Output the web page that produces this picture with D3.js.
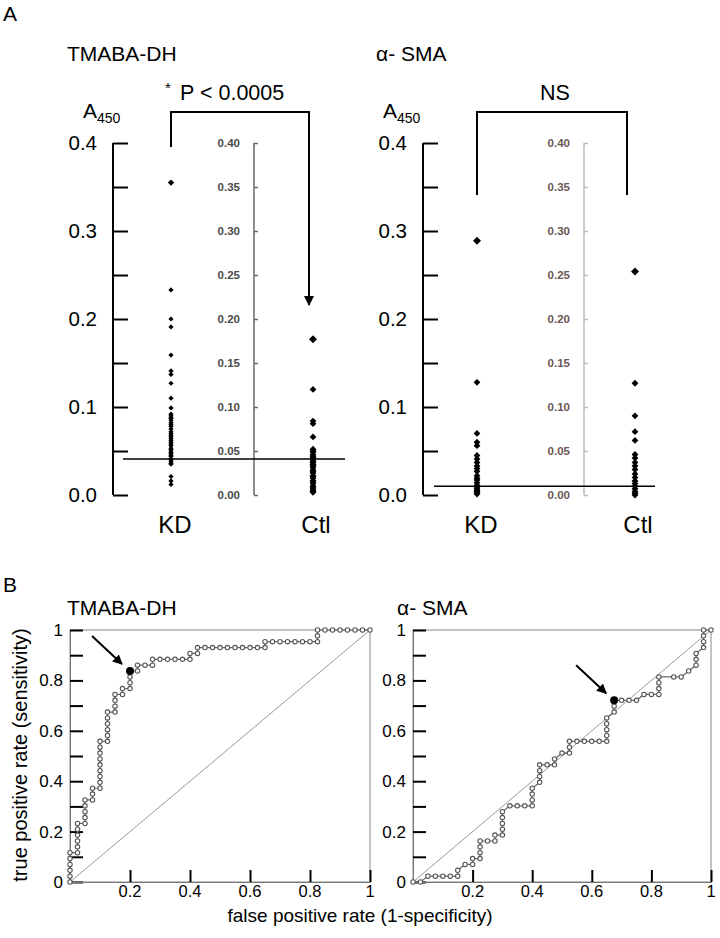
<!DOCTYPE html>
<html><head><meta charset="utf-8">
<script src="https://cdn.jsdelivr.net/npm/d3@7"></script>
<style>body{margin:0;background:#fff}svg{display:block}text{font-family:"Liberation Sans",Arial,sans-serif}</style>
</head><body>
<svg id="c" width="720" height="938"></svg>
<script>
// ---------- DATA ----------
const groups = ["KD", "Ctl"];
const tmabaKD = [0.355,0.233,0.200,0.191,0.159,0.141,0.137,0.127,0.110,0.099,0.092,0.090,0.088,0.087,0.085,0.082,0.080,0.078,0.075,0.072,0.070,0.068,0.066,0.064,0.062,0.060,0.058,0.056,0.053,0.052,0.050,0.048,0.047,0.045,0.044,0.041,0.040,0.038,0.036,0.035,0.021,0.016,0.012];
const tmabaCtl = [0.177,0.120,0.084,0.081,0.066,0.052,0.050,0.049,0.046,0.044,0.043,0.041,0.040,0.038,0.037,0.035,0.034,0.033,0.031,0.028,0.027,0.025,0.022,0.021,0.019,0.016,0.015,0.013,0.010,0.009,0.007,0.005,0.004,0.003];
const smaKD = [0.289,0.128,0.070,0.060,0.056,0.045,0.041,0.037,0.033,0.030,0.027,0.022,0.019,0.017,0.014,0.011,0.009,0.007,0.005,0.004,0.003,0.001];
const smaCtl = [0.254,0.127,0.090,0.072,0.062,0.046,0.042,0.037,0.033,0.029,0.024,0.020,0.016,0.013,0.010,0.007,0.004,0.002,0.000];
const tmabaCutoff = 0.041;
const smaCutoff = 0.010;
const yTicksMain = [0.0,0.1,0.2,0.3,0.4];
const yTicksMinor = [0,0.05,0.10,0.15,0.20,0.25,0.30,0.35,0.40];
const pLabel = "P < 0.0005";
const nsLabel = "NS";

// ROC points as [false-positive count, true-positive count]
const nNeg = 40, nPos = 43;
const tmabaRoc = [[0,0],[0,1],[0,2],[0,3],[0,4],[0,5],[1,5],[1,6],[1,7],[1,8],[1,9],[1,10],[2,10],[2,11],[2,12],[2,13],[2,14],[3,14],[3,15],[3,16],[4,16],[4,17],[4,18],[4,19],[4,20],[4,21],[4,22],[4,23],[4,24],[5,24],[5,25],[5,26],[5,27],[5,28],[5,29],[6,29],[6,30],[6,31],[6,32],[7,32],[7,33],[8,33],[8,34],[8,35],[8,36],[9,36],[9,37],[10,37],[11,37],[11,38],[12,38],[13,38],[14,38],[15,38],[16,38],[16,39],[17,39],[17,40],[18,40],[19,40],[20,40],[21,40],[22,40],[23,40],[24,40],[25,40],[26,40],[26,41],[27,41],[28,41],[29,41],[30,41],[31,41],[32,41],[33,41],[33,42],[33,43],[34,43],[35,43],[36,43],[37,43],[38,43],[39,43],[40,43]];
const tmabaBest = [8,36];
const smaRoc = [[0,0],[1,0],[2,1],[3,1],[4,1],[5,1],[6,1],[6,2],[7,3],[8,3],[8,4],[9,4],[9,5],[9,6],[9,7],[10,7],[11,7],[11,8],[12,8],[12,9],[12,10],[12,11],[12,12],[13,13],[14,13],[15,13],[16,13],[16,14],[16,15],[16,16],[17,17],[17,18],[17,19],[17,20],[18,20],[19,20],[19,21],[20,22],[21,22],[21,23],[21,24],[22,24],[23,24],[24,24],[25,24],[26,24],[26,25],[26,26],[26,27],[26,28],[27,29],[27,30],[27,31],[28,31],[29,31],[30,31],[31,32],[32,32],[33,32],[33,33],[33,34],[33,35],[35,35],[36,35],[37,36],[38,37],[38,38],[38,39],[39,40],[39,41],[39,42],[39,43],[40,43]];
const smaBest = [27,31];
const rocTicksY = [0,0.1,0.2,0.3,0.4,0.5,0.6,0.7,0.8,0.9,1];
const rocLabelsY = [0,0.2,0.4,0.6,0.8,1];
const rocTicksX = [0.2,0.4,0.6,0.8,1];
const rocLabelsX = [0.2,0.4,0.6,0.8,1];

// ---------- DRAW ----------
const svg = d3.select("#c");
const fmtR = d => d === 0 ? "0" : d === 1 ? "1" : d3.format(".1f")(d);

function txt(x, y, s, size, anchor, opts = {}) {
  const t = svg.append("text").attr("x", x).attr("y", y).text(s)
    .attr("font-size", size).attr("text-anchor", anchor || "start")
    .attr("fill", opts.fill || "#000");
  if (opts.weight) t.attr("font-weight", opts.weight);
  return t;
}
function diamond(r) { return `M0,${-r}L${r},0L0,${r}L${-r},0Z`; }

svg.append("defs").append("marker").attr("id", "ah").attr("viewBox", "0 0 10 10")
  .attr("refX", 9).attr("refY", 5).attr("markerWidth", 5).attr("markerHeight", 5)
  .attr("orient", "auto").append("path").attr("d", "M0,0L10,5L0,10Z").attr("fill", "#000");

txt(3, 21, "A", 21);
txt(3, 592, "B", 21);

const yTop = d3.scaleLinear().domain([0, 0.4]).range([495, 143]);

function dotPanel(cfg) {
  const x = d3.scalePoint().domain(groups).range([cfg.kdX, cfg.ctlX]);
  txt(cfg.titleX, 61, cfg.title, 21);
  // A450
  txt(cfg.aX, 118, "A", 21);
  txt(cfg.aX + 14, 123, "450", 14);
  // main axis
  const ax = svg.append("g").attr("transform", `translate(${cfg.axisX},0)`)
    .call(d3.axisRight(yTop).tickValues(yTicksMinor).tickSize(15).tickFormat(""));
  ax.select(".domain").attr("stroke", "#000").attr("stroke-width", 2).attr("d", `M0,${yTop(0)}V${yTop(0.4)}`);
  ax.selectAll(".tick line").attr("stroke", "#000").attr("stroke-width", 2);
  yTicksMain.forEach(v => txt(cfg.axisX - 16, yTop(v) + 7, d3.format(".1f")(v), 20.5, "end"));
  // secondary axis
  const ax2 = svg.append("g").attr("transform", `translate(${cfg.ax2X},0)`)
    .call(d3.axisRight(yTop).tickValues(yTicksMinor).tickSize(4).tickFormat(""));
  ax2.select(".domain").attr("stroke", cfg.ax2Color).attr("stroke-width", 1.5).attr("d", `M0,${yTop(0)}V${yTop(0.4)}`);
  ax2.selectAll(".tick line").attr("stroke", cfg.ax2Color).attr("stroke-width", 1.5);
  yTicksMinor.forEach(v => txt(cfg.ax2X - 14, yTop(v) + 4, d3.format(".2f")(v), 11.5, "end", {fill: cfg.ax2Text, weight: "bold"}));
  // cutoff
  svg.append("line").attr("x1", cfg.cutX1).attr("x2", cfg.cutX2).attr("y1", yTop(cfg.cut)).attr("y2", yTop(cfg.cut))
    .attr("stroke", "#000").attr("stroke-width", 1.5);
  // dots
  [[cfg.kd, "KD", cfg.kdR], [cfg.ctl, "Ctl", cfg.ctlR]].forEach(([vals, g, r]) => {
    svg.append("g").selectAll("path").data(vals).join("path")
      .attr("transform", d => `translate(${x(g)},${yTop(d)})`)
      .attr("d", (d, i) => diamond(i === 0 ? r + 0.6 : r)).attr("fill", "#000");
  });
  groups.forEach(g => txt(x(g) + (g === "KD" ? 4 : 3), 533, g, 24, "middle"));
  // bracket
  const top = 112;
  svg.append("path").attr("d", `M${x("KD")},${cfg.legL}V${top}H${cfg.bracketR}V${cfg.legR}`)
    .attr("fill", "none").attr("stroke", "#000").attr("stroke-width", 2)
    .attr("marker-end", cfg.arrow ? "url(#ah)" : null);
}

dotPanel({title: "TMABA-DH", titleX: 67, aX: 83, axisX: 113, ax2X: 254, ax2Color: "#666", ax2Text: "#4a4a4a",
  kdX: 171, ctlX: 313, kd: tmabaKD, ctl: tmabaCtl, kdR: 2.6, ctlR: 3.4, cut: tmabaCutoff, cutX1: 123, cutX2: 345,
  legL: 147, bracketR: 309, legR: 305, arrow: true});
dotPanel({title: "α- SMA", titleX: 376, aX: 383, axisX: 423, ax2X: 584, ax2Color: "#bbb", ax2Text: "#6b5656",
  kdX: 477, ctlX: 635, kd: smaKD, ctl: smaCtl, kdR: 3.4, ctlR: 3.4, cut: smaCutoff, cutX1: 434, cutX2: 655,
  legL: 195, bracketR: 627, legR: 195, arrow: false});

// significance texts
txt(165, 93, "*", 15);
txt(180, 100, pLabel, 21.5);
txt(555, 100, nsLabel, 21.5, "middle");

// ---------- ROC ----------
function rocPanel(cfg) {
  const x = d3.scaleLinear().domain([0, 1]).range([cfg.x0, cfg.x1]);
  const y = d3.scaleLinear().domain([0, 1]).range([882, 630]);
  txt(cfg.titleX, 615, cfg.title, 21);
  svg.append("rect").attr("x", x(0)).attr("y", y(1)).attr("width", x(1) - x(0)).attr("height", y(0) - y(1))
    .attr("fill", "none").attr("stroke", "#888").attr("stroke-width", 1);
  const gy = svg.append("g").attr("transform", `translate(${x(0)},0)`)
    .call(d3.axisRight(y).tickValues(rocTicksY).tickSize(13).tickFormat(""));
  gy.select(".domain").attr("stroke", "#777");
  gy.selectAll(".tick line").attr("stroke", "#000").attr("stroke-width", 2);
  const gx = svg.append("g").attr("transform", `translate(0,${y(0)})`)
    .call(d3.axisTop(x).tickValues(rocTicksX).tickSize(12).tickFormat(""));
  gx.select(".domain").attr("stroke", "#777");
  gx.selectAll(".tick line").attr("stroke", "#000").attr("stroke-width", 2);
  rocLabelsY.forEach(v => txt(x(0) - 7, y(v) + 6, fmtR(v), 17, "end"));
  rocLabelsX.forEach(v => txt(x(v), 897, fmtR(v), 16.5, "middle"));
  // diagonal
  svg.append("line").attr("x1", x(0)).attr("y1", y(0)).attr("x2", x(1)).attr("y2", y(1))
    .attr("stroke", "#999").attr("stroke-width", 1);
  const pts = cfg.roc.map(([f, t]) => [f / nNeg, t / nPos]);
  svg.append("path").datum(pts).attr("d", d3.line().x(d => x(d[0])).y(d => y(d[1])))
    .attr("fill", "none").attr("stroke", "#666").attr("stroke-width", 1.2);
  svg.append("g").selectAll("circle").data(pts).join("circle")
    .attr("cx", d => x(d[0])).attr("cy", d => y(d[1])).attr("r", 2.2)
    .attr("fill", "#fff").attr("stroke", "#555").attr("stroke-width", 1.1);
  const bx = x(cfg.best[0] / nNeg), by = y(cfg.best[1] / nPos);
  svg.append("circle").attr("cx", bx).attr("cy", by).attr("r", 4).attr("fill", "#000");
  svg.append("line").attr("x1", bx - 38).attr("y1", by - 35).attr("x2", bx - 8).attr("y2", by - 7)
    .attr("stroke", "#000").attr("stroke-width", 2).attr("marker-end", "url(#ah)");
}
rocPanel({title: "TMABA-DH", titleX: 67, x0: 70, x1: 370, roc: tmabaRoc, best: tmabaBest});
rocPanel({title: "α- SMA", titleX: 397, x0: 413, x1: 711, roc: smaRoc, best: smaBest});

txt(360, 922, "false positive rate (1-specificity)", 19, "middle");
svg.append("text").attr("transform", "translate(27,755) rotate(-90)").attr("text-anchor", "middle")
  .attr("font-size", 20).text("true positive rate (sensitivity)");
</script>
</body></html>
